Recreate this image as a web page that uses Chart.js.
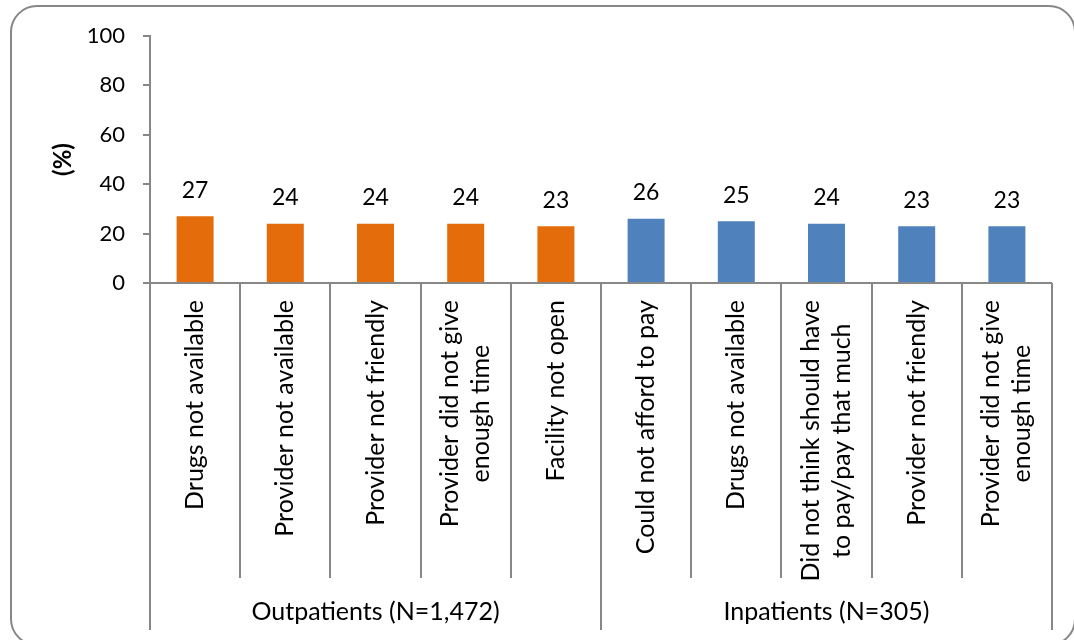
<!DOCTYPE html>
<html>
<head>
<meta charset="utf-8">
<script src="https://cdn.jsdelivr.net/npm/chart.js@4.4.0/dist/chart.umd.min.js"></script>
<style>
  html, body { margin: 0; padding: 0; background: #fff; }
  #wrap { width: 1074px; height: 640px; position: relative; }
</style>
</head>
<body>
<div id="wrap"><canvas id="chart" width="1074" height="640"></canvas></div>
<script>
// --- DADOS ---
const categorias = [
  ["Drugs not available"],
  ["Provider not available"],
  ["Provider not friendly"],
  ["Provider did not give", "enough time"],
  ["Facility not open"],
  ["Could not afford to pay"],
  ["Drugs not available"],
  ["Did not think should have", "to pay/pay that much"],
  ["Provider not friendly"],
  ["Provider did not give", "enough time"]
];
const valores = [27, 24, 24, 24, 23, 26, 25, 24, 23, 23];
const grupos = ["Outpatients (N=1,472)", "Inpatients (N=305)"];
const tamanhoGrupos = [5, 5];
const yTicks = [0, 20, 40, 60, 80, 100];

const LARANJA = "#E46C0A";
const AZUL = "#4F81BD";
const CINZA = "#878787";
const FONTE = "Lato, 'Liberation Sans', sans-serif";

// cor de cada barra conforme grupo
const cores = [];
tamanhoGrupos.forEach((n, g) => {
  for (let i = 0; i < n; i++) cores.push(g === 0 ? LARANJA : AZUL);
});

// --- PLUGIN: moldura, rótulos, separadores ---
const extras = {
  id: "extras",
  beforeDraw(chart) {
    const { ctx } = chart;
    ctx.save();
    ctx.strokeStyle = CINZA;
    ctx.lineWidth = 2;
    const x0 = 11, y0 = 6, x1 = 1075, y1 = 645, r = 26;
    ctx.beginPath();
    ctx.moveTo(x0 + r, y0);
    ctx.lineTo(x1 - r, y0);
    ctx.arcTo(x1, y0, x1, y0 + r, r);
    ctx.lineTo(x1, y1 - r);
    ctx.arcTo(x1, y1, x1 - r, y1, r);
    ctx.lineTo(x0 + r, y1);
    ctx.arcTo(x0, y1, x0, y1 - r, r);
    ctx.lineTo(x0, y0 + r);
    ctx.arcTo(x0, y0, x0 + r, y0, r);
    ctx.stroke();
    ctx.restore();
  },
  afterDraw(chart) {
    const { ctx } = chart;
    const xs = chart.scales.x;
    const ys = chart.scales.y;
    const base = ys.getPixelForValue(0);
    const passo = xs.getPixelForValue(1) - xs.getPixelForValue(0);
    ctx.save();

    // linhas separadoras
    ctx.strokeStyle = CINZA;
    ctx.lineWidth = 2;
    const limitesGrupo = [0];
    let acc = 0;
    tamanhoGrupos.forEach((n) => { acc += n; limitesGrupo.push(acc); });
    for (let i = 0; i <= categorias.length; i++) {
      const x = Math.round(xs.getPixelForValue(i) - passo / 2);
      const fim = limitesGrupo.includes(i) ? 630 : 578;
      ctx.beginPath();
      ctx.moveTo(x, base);
      ctx.lineTo(x, fim);
      ctx.stroke();
    }
    // eixo x
    ctx.beginPath();
    ctx.moveTo(xs.left - 7, base);
    ctx.lineTo(xs.right, base);
    ctx.stroke();

    // valores acima das barras
    ctx.fillStyle = "#000";
    ctx.font = "23px " + FONTE;
    ctx.textAlign = "center";
    ctx.textBaseline = "middle";
    valores.forEach((v, i) => {
      ctx.fillText(String(v), xs.getPixelForValue(i), ys.getPixelForValue(v) - 26);
    });

    // rótulos das categorias (verticais)
    ctx.font = "25px " + FONTE;
    categorias.forEach((linhas, i) => {
      const cx = xs.getPixelForValue(i);
      const larguras = linhas.map((l) => ctx.measureText(l).width);
      const maxW = Math.max(...larguras);
      linhas.forEach((l, k) => {
        const off = (k - (linhas.length - 1) / 2) * 31;
        ctx.save();
        ctx.translate(cx + off, base + 17 + maxW / 2);
        ctx.rotate(-Math.PI / 2);
        ctx.textAlign = "center";
        ctx.textBaseline = "middle";
        ctx.fillText(l, 0, 0);
        ctx.restore();
      });
    });

    // rótulos dos grupos
    grupos.forEach((g, k) => {
      const a = xs.getPixelForValue(limitesGrupo[k]) - passo / 2;
      const b = xs.getPixelForValue(limitesGrupo[k + 1]) - passo / 2;
      ctx.fillText(g, (a + b) / 2, 612);
    });

    // título do eixo y
    ctx.font = "bold 24px " + FONTE;
    ctx.translate(63, (ys.top + ys.bottom) / 2);
    ctx.rotate(-Math.PI / 2);
    ctx.fillText("(%)", 0, 0);
    ctx.restore();
  }
};

new Chart(document.getElementById("chart"), {
  type: "bar",
  data: {
    labels: categorias,
    datasets: [{
      data: valores,
      backgroundColor: cores,
      categoryPercentage: 1,
      barPercentage: 0.41
    }]
  },
  options: {
    responsive: false,
    animation: false,
    layout: { padding: { left: 0, top: 36, right: 22, bottom: 357 } },
    plugins: { legend: { display: false }, tooltip: { enabled: false } },
    scales: {
      x: { display: false },
      y: {
        min: 0,
        max: 100,
        afterFit(scale) { scale.width = 150; },
        afterBuildTicks(scale) { scale.ticks = yTicks.map((v) => ({ value: v })); },
        border: { color: CINZA, width: 2 },
        grid: { drawOnChartArea: false, drawTicks: true, tickLength: 7, color: CINZA, lineWidth: 2 },
        ticks: { color: "#000", font: { family: FONTE, size: 22 }, padding: 18 }
      }
    }
  },
  plugins: [extras]
});
</script>
</body>
</html>
